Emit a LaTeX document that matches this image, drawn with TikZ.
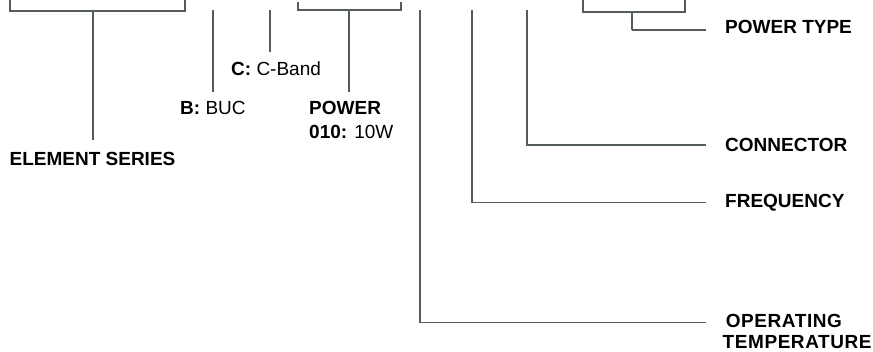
\documentclass[tikz,border=0pt]{standalone}
\usepackage{fontspec}
\setmainfont{Liberation Sans}
\usetikzlibrary{positioning}

\definecolor{leadgray}{RGB}{84,92,92}
\tikzset{
  lead/.style={draw=leadgray, line width=1.3pt},
  tag/.style={inner sep=0pt, font=\fontsize{19}{20.5}\selectfont\bfseries},
  val/.style={inner sep=0pt, font=\fontsize{19}{20.5}\selectfont},
}

\begin{document}
\begin{tikzpicture}[x=1pt, y=-1pt]
  \useasboundingbox (0,0) rectangle (873,351);
  % bracket ends and stem tops
  \coordinate (es-l) at (10,0);
  \coordinate (es-r) at (185,0);
  \coordinate (es-m) at (93,11);
  \coordinate (b-top) at (213,10);
  \coordinate (c-top) at (270,10);
  \coordinate (pw-l) at (298,2);
  \coordinate (pw-r) at (401,2);
  \coordinate (pw-m) at (349,11);
  \coordinate (op-top) at (420,10);
  \coordinate (fq-top) at (472,10);
  \coordinate (cn-top) at (527,10);
  \coordinate (pt-l) at (583,0);
  \coordinate (pt-r) at (685,0);
  \coordinate (pt-m) at (632,12);
  \coordinate (pt-k) at (632,30);

  % labels
  \node[tag] (es) at (92.5,159) {ELEMENT SERIES};
  \node[val, anchor=west] (buc) at (180,108) {\textbf{B:} BUC};
  \node[val, anchor=west] (cband) at (231,69) {\textbf{C:} C-Band};
  \node[tag, anchor=west] (power) at (309,108) {POWER};
  \node[val, anchor=west] (watt) at (309,132) {\textbf{010:} 10W};
  \node[tag, anchor=west] (ptype) at (725,27) {POWER TYPE};
  \node[tag, anchor=west] (conn) at (725,145) {CONNECTOR};
  \node[tag, anchor=west] (freq) at (725,202.5) {FREQUENCY};
  \node[tag, anchor=north west, align=left] (temp) at (722.5,314.5)
    {\addfontfeatures{LetterSpace=3}\,OPERATING\\\addfontfeatures{LetterSpace=3}TEMPERATURE};
  \coordinate (op-k) at (706,322.5);

  % left side
  \draw[lead] (es-l) -- ++(0,11) -| (es-r);
  \draw[lead, shorten >=12pt] (es-m) -- (es-m |- es.north);
  \draw[lead, shorten >=9pt] (b-top) -- (b-top |- buc.north);
  \draw[lead, shorten >=10pt] (c-top) -- (c-top |- cband.north);
  \draw[lead] (pw-l) -- ++(0,8) -| (pw-r);
  \draw[lead, shorten >=9pt] (pw-m) -- (pw-m |- power.north);

  % right side
  \draw[lead] (op-top) |- (op-k);
  \draw[lead, shorten >=19pt] (fq-top) |- (freq.west);
  \draw[lead, shorten >=19pt] (cn-top) |- (conn.west);
  \draw[lead] (pt-l) -- ++(0,12) -| (pt-r);
  \draw[lead] (pt-m) -- (pt-k);
  \draw[lead, shorten >=19pt] (pt-k) -- (pt-k -| ptype.west);
\end{tikzpicture}
\end{document}
